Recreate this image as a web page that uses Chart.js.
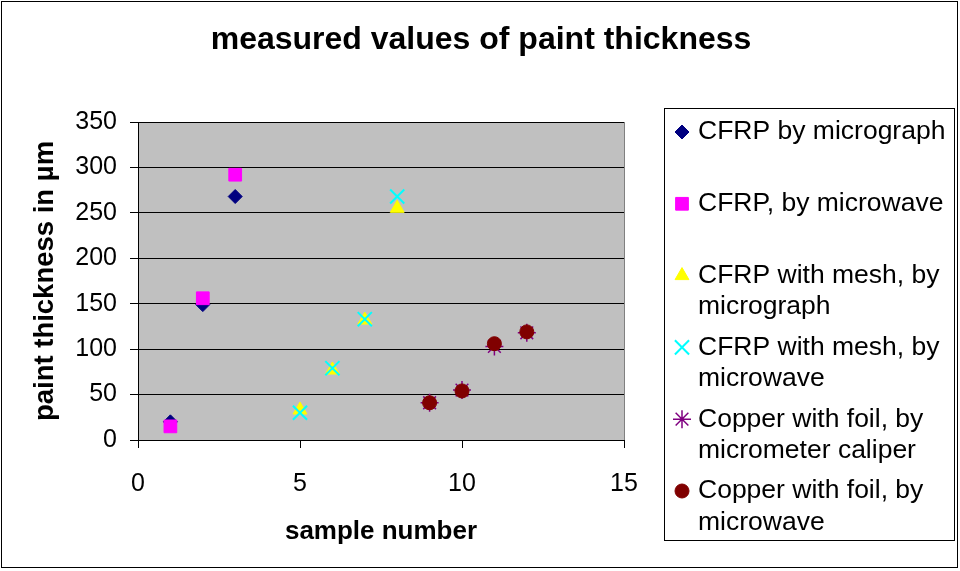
<!DOCTYPE html>
<html>
<head>
<meta charset="utf-8">
<script src="https://cdn.jsdelivr.net/npm/chart.js@4.4.1/dist/chart.umd.min.js"></script>
<style>
  body { margin: 0; background: #fff; }
</style>
</head>
<body>
<canvas id="chart" width="960" height="571"></canvas>
<script>
// sample numbers per group
const samplesCfrp = [1, 2, 3];
const samplesMesh = [5, 6, 7, 8];
const samplesCopper = [9, 10, 11, 12];

// paint thickness in µm
const cfrpMicrograph = [20, 149, 268];
const cfrpMicrowave = [15, 156, 292];
const meshMicrograph = [33, 77, 132, 255];
const meshMicrowave = [30, 79, 133, 268];
const copperCaliper = [41, 55, 103, 118];
const copperMicrowave = [41, 54, 106, 119];

const seriesNames = [
  ['CFRP by micrograph'],
  ['CFRP, by microwave'],
  ['CFRP with mesh, by', 'micrograph'],
  ['CFRP with mesh, by', 'microwave'],
  ['Copper with foil, by', 'micrometer caliper'],
  ['Copper with foil, by', 'microwave']
];

const chartTitle = 'measured values of paint thickness';

const FONT = 'Arial, "Liberation Sans", sans-serif';

const pts = (xs, ys) => xs.map((x, i) => ({ x: x, y: ys[i] }));

function series(i, xs, ys, style, color, radius, bw) {
  return {
    label: seriesNames[i].join(' '),
    data: pts(xs, ys),
    pointStyle: style,
    pointRadius: radius,
    pointHoverRadius: radius,
    backgroundColor: color,
    borderColor: color,
    borderWidth: bw,
    showLine: false,
    order: 6 - i   // later series on top, like the original
  };
}

const plotFrame = {
  id: 'plotFrame',
  beforeDraw(chart) {
    const { ctx, chartArea: a } = chart;
    ctx.save();
    ctx.fillStyle = '#fff';
    ctx.fillRect(0, 0, chart.width, chart.height);
    ctx.fillStyle = '#c0c0c0';
    ctx.fillRect(a.left, a.top, a.right - a.left, a.bottom - a.top);
    ctx.restore();
  },
  beforeDatasetsDraw(chart) {
    const { ctx, chartArea: a } = chart;
    ctx.save();
    ctx.strokeStyle = '#808080';
    ctx.lineWidth = 1;
    ctx.beginPath();
    ctx.moveTo(a.right + 0.5, a.top);
    ctx.lineTo(a.right + 0.5, a.bottom);
    ctx.stroke();
    ctx.restore();
  },
  afterDraw(chart) {
    const ctx = chart.ctx;
    ctx.save();
    // title is centred on the whole chart, not on the plot
    ctx.fillStyle = '#000';
    ctx.font = 'bold 32px ' + FONT;
    ctx.textAlign = 'center';
    ctx.textBaseline = 'middle';
    ctx.fillText(chartTitle, 481, 40);
    ctx.strokeStyle = '#000';
    ctx.lineWidth = 1;
    ctx.strokeRect(1.5, 1.5, 956, 566);
    ctx.restore();
  }
};

const sideLegend = {
  id: 'sideLegend',
  afterDraw(chart) {
    const ctx = chart.ctx;
    ctx.save();
    ctx.strokeStyle = '#000';
    ctx.lineWidth = 1;
    ctx.strokeRect(664.5, 108.5, 290, 432);
    ctx.font = '26.5px ' + FONT;
    ctx.textBaseline = 'middle';
    chart.data.datasets.forEach((ds, i) => {
      const y = 132 + i * 71.8;
      ctx.fillStyle = ds.backgroundColor;
      ctx.strokeStyle = ds.borderColor;
      ctx.lineWidth = ds.borderWidth;
      Chart.helpers.drawPoint(ctx, {
        pointStyle: ds.pointStyle,
        radius: ds.pointRadius,
        borderWidth: ds.borderWidth,
        rotation: 0
      }, 682, y);
      ctx.fillStyle = '#000';
      seriesNames[i].forEach((line, j) => {
        ctx.fillText(line, 698, y + j * 31.5);
      });
    });
    ctx.restore();
  }
};

new Chart(document.getElementById('chart'), {
  type: 'scatter',
  data: {
    datasets: [
      series(0, samplesCfrp, cfrpMicrograph, 'rectRot', '#000080', 7, 1),
      series(1, samplesCfrp, cfrpMicrowave, 'rect', '#ff00ff', 9, 1),
      series(2, samplesMesh, meshMicrograph, 'triangle', '#ffff00', 8, 1),
      series(3, samplesMesh, meshMicrowave, 'crossRot', '#00ffff', 10, 2),
      series(4, samplesCopper, copperCaliper, 'star', '#800080', 9, 1.5),
      series(5, samplesCopper, copperMicrowave, 'circle', '#800000', 7, 1)
    ]
  },
  plugins: [plotFrame, sideLegend],
  options: {
    responsive: false,
    animation: false,
    layout: { padding: { top: 122, left: 0, right: 336, bottom: 0 } },
    plugins: {
      legend: { display: false },
      tooltip: { enabled: false },
      title: { display: false }
    },
    scales: {
      x: {
        type: 'linear',
        min: 0,
        max: 15,
        ticks: { stepSize: 5, color: '#000', padding: 21, maxRotation: 0, font: { family: FONT, size: 25 } },
        grid: { drawOnChartArea: false, drawTicks: true, tickLength: 8, color: '#000' },
        border: { color: '#000', width: 1 },
        title: {
          display: true,
          text: 'sample number',
          color: '#000',
          font: { family: FONT, size: 26, weight: 'bold' },
          padding: { top: 0, bottom: 24 }
        },
        afterFit(scale) { scale.height = 131; }
      },
      y: {
        min: 0,
        max: 350,
        ticks: { stepSize: 50, color: '#000', padding: 13, font: { family: FONT, size: 25 } },
        grid: { color: '#000', lineWidth: 1, drawTicks: true, tickLength: 8, tickColor: '#000' },
        border: { color: '#000', width: 1 },
        title: {
          display: true,
          text: 'paint thickness in µm',
          color: '#000',
          font: { family: FONT, size: 27.5, weight: 'bold' },
          padding: { top: 29, bottom: 0 }
        },
        afterFit(scale) { scale.width = 138; }
      }
    }
  }
});
</script>
</body>
</html>
